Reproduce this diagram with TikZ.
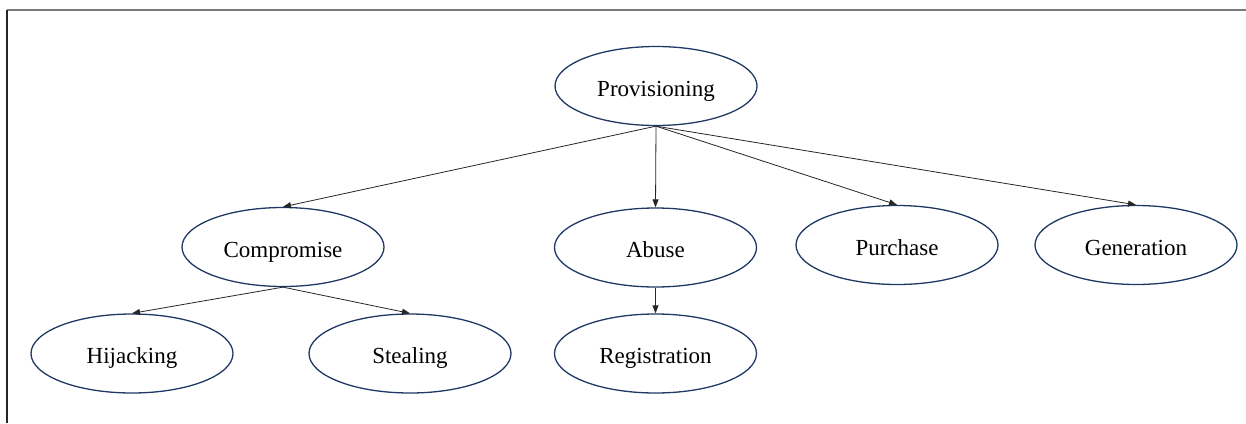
\documentclass[tikz,border=0pt]{standalone}
\usepackage{fontspec}
\setmainfont{Liberation Serif}
\usetikzlibrary{shapes.geometric,arrows.meta}
\definecolor{navy}{RGB}{31,56,100}
\definecolor{framegray}{RGB}{120,120,120}
\begin{document}
\begin{tikzpicture}[x=1pt,y=-1pt,
  oval/.style={ellipse,draw=navy,line width=1.3pt,minimum width=202pt,minimum height=79pt,inner sep=0pt,
    text height=20pt,text depth=0pt,font=\fontsize{23}{27}\selectfont},
  link/.style={draw=black!85,line width=0.8pt,-{Triangle[length=8pt,width=6pt]}}]
\useasboundingbox (0,0) rectangle (1246,423);
\draw[framegray,line width=2pt] (7,10) -- (1246,10);
\draw[black!85,line width=1.5pt] (7,10) -- (7,423);
\node[oval] (prov) at (656,86) {Provisioning};
\node[oval] (comp) at (283,247) {Compromise};
\node[oval] (abuse) at (655.5,247.5) {Abuse};
\node[oval] (purch) at (897,245) {Purchase};
\node[oval] (gen) at (1136,245) {Generation};
\node[oval] (hij) at (132,353.5) {Hijacking};
\node[oval] (steal) at (410,353.5) {Stealing};
\node[oval] (reg) at (655.5,353.5) {Registration};
\draw[link] (prov.south) -- (comp.north);
\draw[link] (prov.south) -- (abuse.north);
\draw[link] (prov.south) -- (purch.north);
\draw[link] (prov.south) -- (gen.north);
\draw[link] (comp.south) -- (hij.north);
\draw[link] (comp.south) -- (steal.north);
\draw[link] (abuse.south) -- (reg.north);
\end{tikzpicture}
\end{document}
